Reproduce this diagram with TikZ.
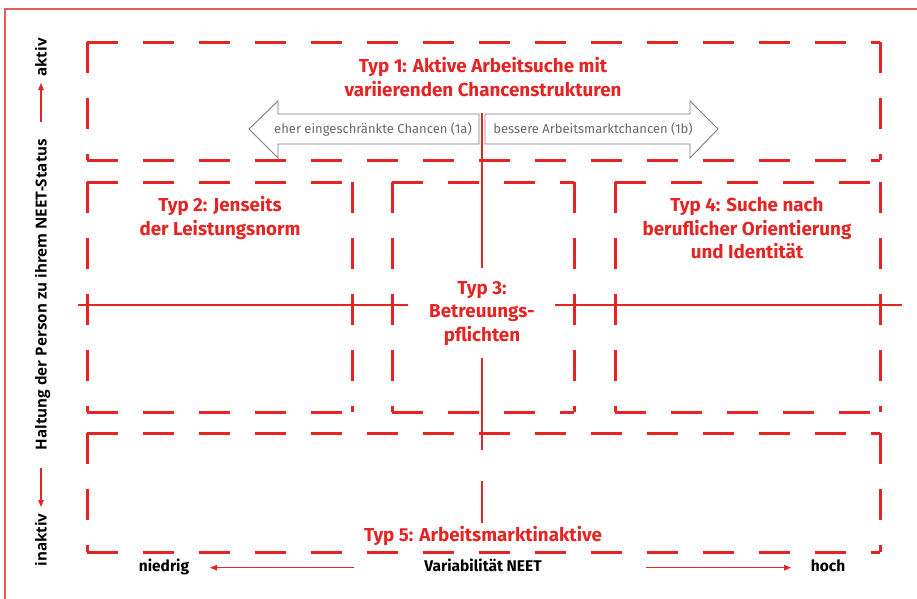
\documentclass[tikz,border=0pt]{standalone}
\usepackage{fontspec}
\setmainfont{Fira Sans}
\newfontfamily\axisfont{Open Sans}
\usetikzlibrary{arrows.meta}
\definecolor{nred}{RGB}{228,37,35}
\definecolor{framered}{RGB}{232,90,88}
\definecolor{ngray}{RGB}{105,105,105}
\definecolor{agray}{RGB}{125,125,125}
\tikzset{
  dashedge/.style={draw=nred, line width=3pt, dash pattern=on 31pt off 25pt},
  divider/.style={draw=nred, line width=2pt},
  typlabel/.style={text=nred, font=\bfseries\fontsize{18.8}{24}\selectfont, anchor=base, inner sep=0pt},
  grayarrow/.style={draw=agray, fill=white, line width=0.9pt, line join=miter},
  graytext/.style={text=ngray, font=\fontsize{13}{15}\selectfont, anchor=base, inner sep=0pt},
  bottomlabel/.style={text=black, font=\bfseries\fontsize{15.5}{18}\selectfont, anchor=base, inner sep=0pt},
  sidelabel/.style={text=black, font=\axisfont\bfseries\fontsize{15.2}{16}\selectfont, anchor=base, inner sep=0pt, rotate=90},
  axisarrow/.style={draw=nred, line width=1.1pt, -{Triangle[length=7pt,width=5.5pt]}}
}
\begin{document}
\begin{tikzpicture}[x=1pt,y=-1pt]
\useasboundingbox (0,0) rectangle (917,598);
\clip (0,0) rectangle (917,598);
\fill[white] (0,0) rectangle (917,598);
% outer frame
\draw[framered, line width=1.2pt] (5,9) rectangle (940,620);

% gray arrows
\draw[grayarrow] (249,129) -- (278,101) -- (278,114) -- (479,114) -- (479,144) -- (278,144) -- (278,158) -- cycle;
\draw[grayarrow] (485,114) -- (690,114) -- (690,101) -- (718,129) -- (690,158) -- (690,144) -- (485,144) -- cycle;
\node[graytext] (a1) at (373,133.3) {eher eingeschränkte Chancen (1a)};
\node[graytext] (a2) at (593,133.3) {bessere Arbeitsmarktchancen (1b)};

% dashed boxes
\foreach \l/\t/\r/\b in {87/42/880/160, 87/182/352/412, 392/182/574/412, 615/182/880/412, 87/433/880/552}{
  \draw[dashedge] (\l,\t) -- (\r,\t);
  \draw[dashedge] (\l,\t) -- (\l,\b);
  \draw[dashedge] (\l,\b) -- (\r,\b);
  \draw[dashedge] (\r,\t) -- (\r,\b);
}

% dividers
\coordinate (v1) at (482,113); \coordinate (v2) at (482,268);
\coordinate (v3) at (482,358); \coordinate (v4) at (482,450);
\coordinate (v5) at (482,481); \coordinate (v6) at (482,523);
\coordinate (h1) at (78,305);  \coordinate (h2) at (408,305);
\coordinate (h3) at (555,305); \coordinate (h4) at (902,305);
\draw[divider] (v1) -- (v2);
\draw[divider] (v3) -- (v4);
\draw[divider] (v5) -- (v6);
\draw[divider] (h1) -- (h2);
\draw[divider] (h3) -- (h4);

% type labels
\node[typlabel] (t1a) at (483,72.7) {Typ 1: Aktive Arbeitsuche mit};
\node[typlabel] (t1b) at (483,96.5) {variierenden Chancenstrukturen};
\node[typlabel] (t2a) at (220,211.7) {Typ 2: Jenseits};
\node[typlabel] (t2b) at (220,235.2) {der Leistungsnorm};
\node[typlabel] (t3a) at (482,294) {Typ 3:};
\node[typlabel] (t3b) at (482,317.5) {Betreuungs-};
\node[typlabel] (t3c) at (482,341) {pflichten};
\node[typlabel] (t4a) at (747,211.7) {Typ 4: Suche nach};
\node[typlabel] (t4b) at (747,235.2) {beruflicher Orientierung};
\node[typlabel] (t4c) at (747,258.7) {und Identität};
\node[typlabel] (t5) at (483,541.7) {Typ 5: Arbeitsmarktinaktive};

% bottom axis
\node[bottomlabel] (lo) at (164,571.7) {niedrig};
\node[bottomlabel] (var) at (483,571.7) {Variabilität NEET};
\node[bottomlabel] (hi) at (828,571.7) {hoch};
\coordinate (la) at (354,567.7); \coordinate (lb) at (210,567.7);
\coordinate (ra) at (646,567.7); \coordinate (rb) at (791,567.7);
\draw[axisarrow] (la) -- (lb);
\draw[axisarrow] (ra) -- (rb);

% side axis
\node[sidelabel] (hal) at (46.7,294.5) {Haltung der Person zu ihrem NEET-Status};
\node[sidelabel] (akt) at (46.7,57.5) {aktiv};
\node[sidelabel] (ina) at (46.7,540) {inaktiv};
\coordinate (ua) at (41,122); \coordinate (ub) at (41,83);
\coordinate (da) at (41,468); \coordinate (db) at (41,507);
\draw[axisarrow] (ua) -- (ub);
\draw[axisarrow] (da) -- (db);
\end{tikzpicture}
\end{document}
